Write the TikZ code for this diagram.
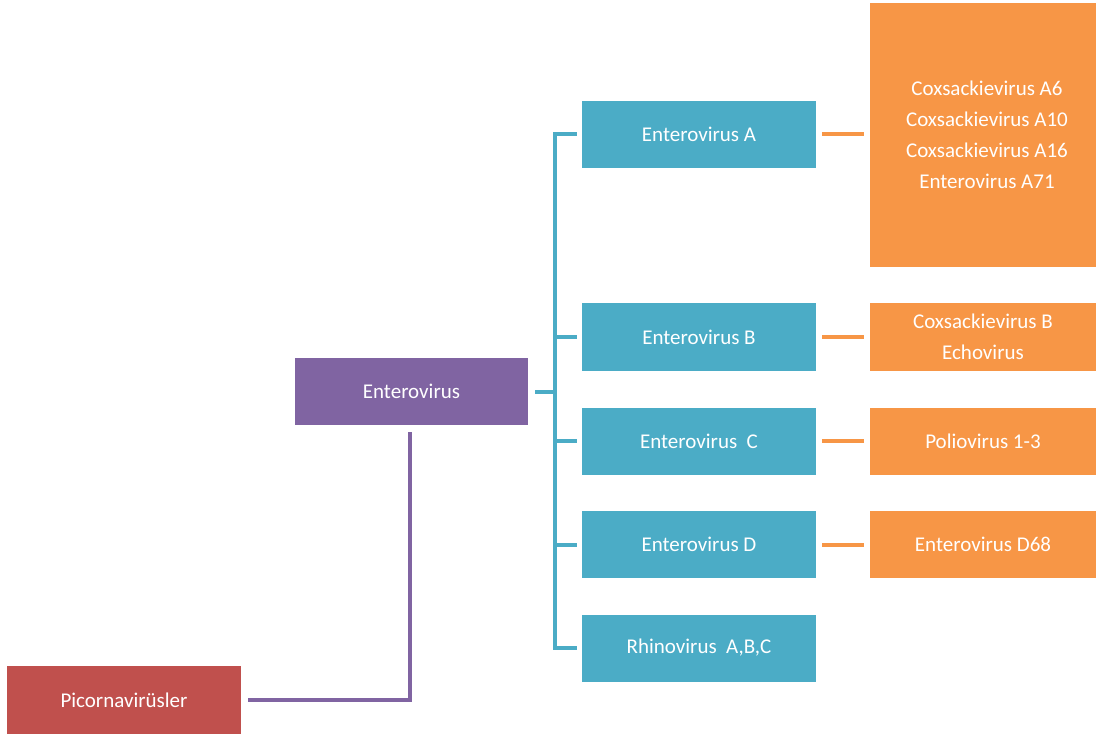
\documentclass[tikz,border=0pt]{standalone}
\usepackage{fontspec}
\setmainfont{Carlito}
\definecolor{cred}{HTML}{C0504D}
\definecolor{cpurple}{HTML}{8064A2}
\definecolor{cblue}{HTML}{4BACC6}
\definecolor{corange}{HTML}{F79646}
\begin{document}
\begin{tikzpicture}[x=1pt,y=-1pt,
  box/.style={draw=none,inner sep=0pt,text=white,font=\fontsize{21}{31}\selectfont,align=center},
  bluebox/.style={box,fill=cblue,minimum width=234pt,minimum height=67pt},
  orbox/.style={box,fill=corange,minimum width=226pt,minimum height=67pt},
  bline/.style={cblue,line width=4pt},
  oline/.style={corange,line width=4pt},
  pline/.style={cpurple,line width=4pt}]
\useasboundingbox (0,0) rectangle (1096,738);
\node[box,fill=cred,minimum width=234pt,minimum height=68pt] (pic) at (124,700) {Picornavirüsler};
\node[box,fill=cpurple,minimum width=233pt,minimum height=67pt] (ent) at (411.5,391.5) {Enterovirus};
\node[bluebox] (ea) at (699,134.5) {Enterovirus A};
\node[bluebox] (eb) at (699,337) {Enterovirus B};
\node[bluebox] (ec) at (699,441) {Enterovirus\ \ C};
\node[bluebox] (ed) at (699,544.5) {Enterovirus D};
\node[bluebox] (rh) at (699,648) {Rhinovirus\ \ A,B,C};
\node[box,fill=corange,minimum width=226pt,minimum height=264pt,anchor=north] (oa) at (983,3) {};
\node[box,anchor=center] (oat) at (987,135) {Coxsackievirus A6\\Coxsackievirus A10\\Coxsackievirus A16\\Enterovirus A71};
\node[orbox] (ob) at (983,337) {Coxsackievirus B\\Echovirus};
\node[orbox] (oc) at (983,441) {Poliovirus 1-3};
\node[orbox] (od) at (983,544.5) {Enterovirus D68};
% purple connector
\coordinate (pc) at (410,700);
\draw[pline] ([xshift=7pt]pic.east) -- (pc) -- ([yshift=-7pt]ent.south -| pc);
% blue bracket
\coordinate (bx) at (555,391.5);
\draw[bline] ([xshift=7pt]ent.east) -- (bx);
\draw[bline] ([xshift=-5pt]ea.west) -- (ea.west -| bx) -- (rh.west -| bx) -- ([xshift=-5pt]rh.west);
\draw[bline] (eb.west -| bx) -- ([xshift=-5pt]eb.west);
\draw[bline] (ec.west -| bx) -- ([xshift=-5pt]ec.west);
\draw[bline] (ed.west -| bx) -- ([xshift=-5pt]ed.west);
% orange connectors
\draw[oline] ([xshift=6pt]ea.east) -- ([xshift=-6pt]ea.east -| oa.west);
\draw[oline] ([xshift=6pt]eb.east) -- ([xshift=-6pt]eb.east -| ob.west);
\draw[oline] ([xshift=6pt]ec.east) -- ([xshift=-6pt]ec.east -| oc.west);
\draw[oline] ([xshift=6pt]ed.east) -- ([xshift=-6pt]ed.east -| od.west);
\end{tikzpicture}
\end{document}
